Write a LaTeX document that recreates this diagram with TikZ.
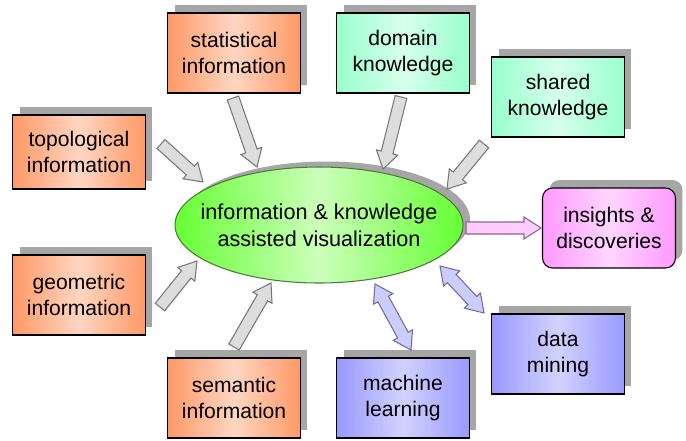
\documentclass[tikz,border=0pt]{standalone}
\usepackage{fontspec}
\setmainfont{Liberation Sans}
\usetikzlibrary{calc,shapes.geometric,shadows}

\definecolor{orangeedge}{HTML}{FF9966}
\definecolor{orangemid}{HTML}{FFD6C2}
\definecolor{mintedge}{HTML}{99FFCC}
\definecolor{mintmid}{HTML}{D6FFEE}
\definecolor{blueedge}{HTML}{9999FF}
\definecolor{bluemid}{HTML}{D2D2FF}
\definecolor{pinkedge}{HTML}{FF99FF}
\definecolor{pinkmid}{HTML}{FFD6FF}
\definecolor{greenedge}{HTML}{66FF33}
\definecolor{greenmid}{HTML}{CCFFBB}
\definecolor{greenborder}{HTML}{4A7A3A}
\definecolor{shadowgray}{HTML}{A6A6A6}
\definecolor{arrowfill}{HTML}{DDDDDD}
\definecolor{arrowline}{HTML}{777777}
\definecolor{bluefill}{HTML}{CCCCFF}
\definecolor{blueline}{HTML}{6E6EA0}
\definecolor{pinkfill}{HTML}{FFCCFF}
\definecolor{pinkline}{HTML}{8A668A}

\newcommand{\shafthw}{0.12cm}
\newcommand{\headhw}{0.22cm}
\newcommand{\headlen}{0.34cm}

% block arrow, one head at #3
\newcommand{\blockarrow}[3]{%
  \draw[#1] let \p1=(#2), \p2=(#3),
      \n1={atan2(\y2-\y1,\x2-\x1)}, \n2={veclen(\x2-\x1,\y2-\y1)},
      \p3=($(\p1)+(\n1:\n2-\headlen)$) in
    ($(\p1)+(\n1+90:\shafthw)$) -- ($(\p3)+(\n1+90:\shafthw)$)
    -- ($(\p3)+(\n1+90:\headhw)$) -- (\p2)
    -- ($(\p3)+(\n1-90:\headhw)$) -- ($(\p3)+(\n1-90:\shafthw)$)
    -- ($(\p1)+(\n1-90:\shafthw)$) -- cycle;}

% block arrow, heads at both ends
\newcommand{\dblockarrow}[3]{%
  \draw[#1] let \p1=(#2), \p2=(#3),
      \n1={atan2(\y2-\y1,\x2-\x1)}, \n2={veclen(\x2-\x1,\y2-\y1)},
      \p3=($(\p1)+(\n1:\n2-\headlen)$), \p4=($(\p1)+(\n1:\headlen)$) in
    ($(\p4)+(\n1+90:\shafthw)$) -- ($(\p3)+(\n1+90:\shafthw)$)
    -- ($(\p3)+(\n1+90:\headhw)$) -- (\p2)
    -- ($(\p3)+(\n1-90:\headhw)$) -- ($(\p3)+(\n1-90:\shafthw)$)
    -- ($(\p4)+(\n1-90:\shafthw)$) -- ($(\p4)+(\n1-90:\headhw)$)
    -- (\p1) -- ($(\p4)+(\n1+90:\headhw)$) -- cycle;}

\tikzset{
  infobox/.style={draw=black, line width=0.6pt, minimum width=2.66cm,
    minimum height=1.6cm, inner sep=0pt, align=center,
    font=\fontsize{12}{15.3}\selectfont,
    general shadow={fill=shadowgray, shadow xshift=0.14cm, shadow yshift=0.16cm}},
  orangebox/.style={infobox, left color=orangeedge, right color=orangeedge, middle color=orangemid},
  mintbox/.style={infobox, left color=mintedge, right color=mintedge, middle color=mintmid},
  bluebox/.style={infobox, left color=blueedge, right color=blueedge, middle color=bluemid},
  pinkbox/.style={infobox, rounded corners=0.2cm, left color=pinkedge, right color=pinkedge, middle color=pinkmid},
  grayarrow/.style={fill=arrowfill, draw=arrowline, line width=0.6pt, line join=miter},
  bluearrow/.style={fill=bluefill, draw=blueline, line width=0.6pt, line join=miter},
  pinkarrow/.style={fill=pinkfill, draw=pinkline, line width=0.6pt, line join=miter}
}

\begin{document}
\begin{tikzpicture}[x=0.02cm, y=-0.02cm]
\useasboundingbox (0,0) rectangle (686,440);

% centre
\node (ivis) [ellipse, draw=greenborder, line width=0.6pt, minimum width=5.76cm,
  minimum height=2.32cm, inner sep=0pt,
  left color=greenedge, right color=greenedge, middle color=greenmid,
  general shadow={fill=shadowgray, shadow xshift=0.14cm, shadow yshift=0.11cm},
  label={[align=center, font=\fontsize{12.3}{15.3}\selectfont]center:information \& knowledge\\assisted visualization}]
  at (319,225) {};

% sources
\node (topo) [orangebox, minimum height=1.48cm] at (79,152) {topological\\information};
\node (stat) [orangebox] at (234,53) {statistical\\information};
\node (geo) [orangebox] at (79,295) {geometric\\information};
\node (sem) [orangebox] at (234,398) {semantic\\information};
\node (dom) [mintbox] at (403,53) {domain\\knowledge};
\node (shared) [mintbox] at (558,97) {shared\\knowledge};
\node (ml) [bluebox] at (403,398) {machine\\learning};
\node (dm) [bluebox] at (558,354) {data\\mining};
\node (ins) [pinkbox] at (609,228) {insights \&\\discoveries};

% arrow ends
\coordinate (topo-a) at (161,144);
\coordinate (topo-b) at (203,182);
\coordinate (stat-a) at (233,98);
\coordinate (stat-b) at (257,167);
\coordinate (dom-a) at (401,97);
\coordinate (dom-b) at (383,169);
\coordinate (shared-a) at (484,144);
\coordinate (shared-b) at (447,189);
\coordinate (geo-a) at (160,307);
\coordinate (geo-b) at (197,261);
\coordinate (sem-a) at (234,347);
\coordinate (sem-b) at (271,283);
\coordinate (ml-a) at (411,350);
\coordinate (ml-b) at (375,284);
\coordinate (dm-a) at (484,313);
\coordinate (dm-b) at (440,266);
\coordinate (ins-a) at (466,228);
\coordinate (ins-b) at (541,228);

\blockarrow{grayarrow}{topo-a}{topo-b}
\blockarrow{grayarrow}{stat-a}{stat-b}
\blockarrow{grayarrow}{dom-a}{dom-b}
\blockarrow{grayarrow}{shared-a}{shared-b}
\blockarrow{grayarrow}{geo-a}{geo-b}
\blockarrow{grayarrow}{sem-a}{sem-b}
\dblockarrow{bluearrow}{ml-a}{ml-b}
\dblockarrow{bluearrow}{dm-a}{dm-b}
\blockarrow{pinkarrow}{ins-a}{ins-b}
\end{tikzpicture}
\end{document}
